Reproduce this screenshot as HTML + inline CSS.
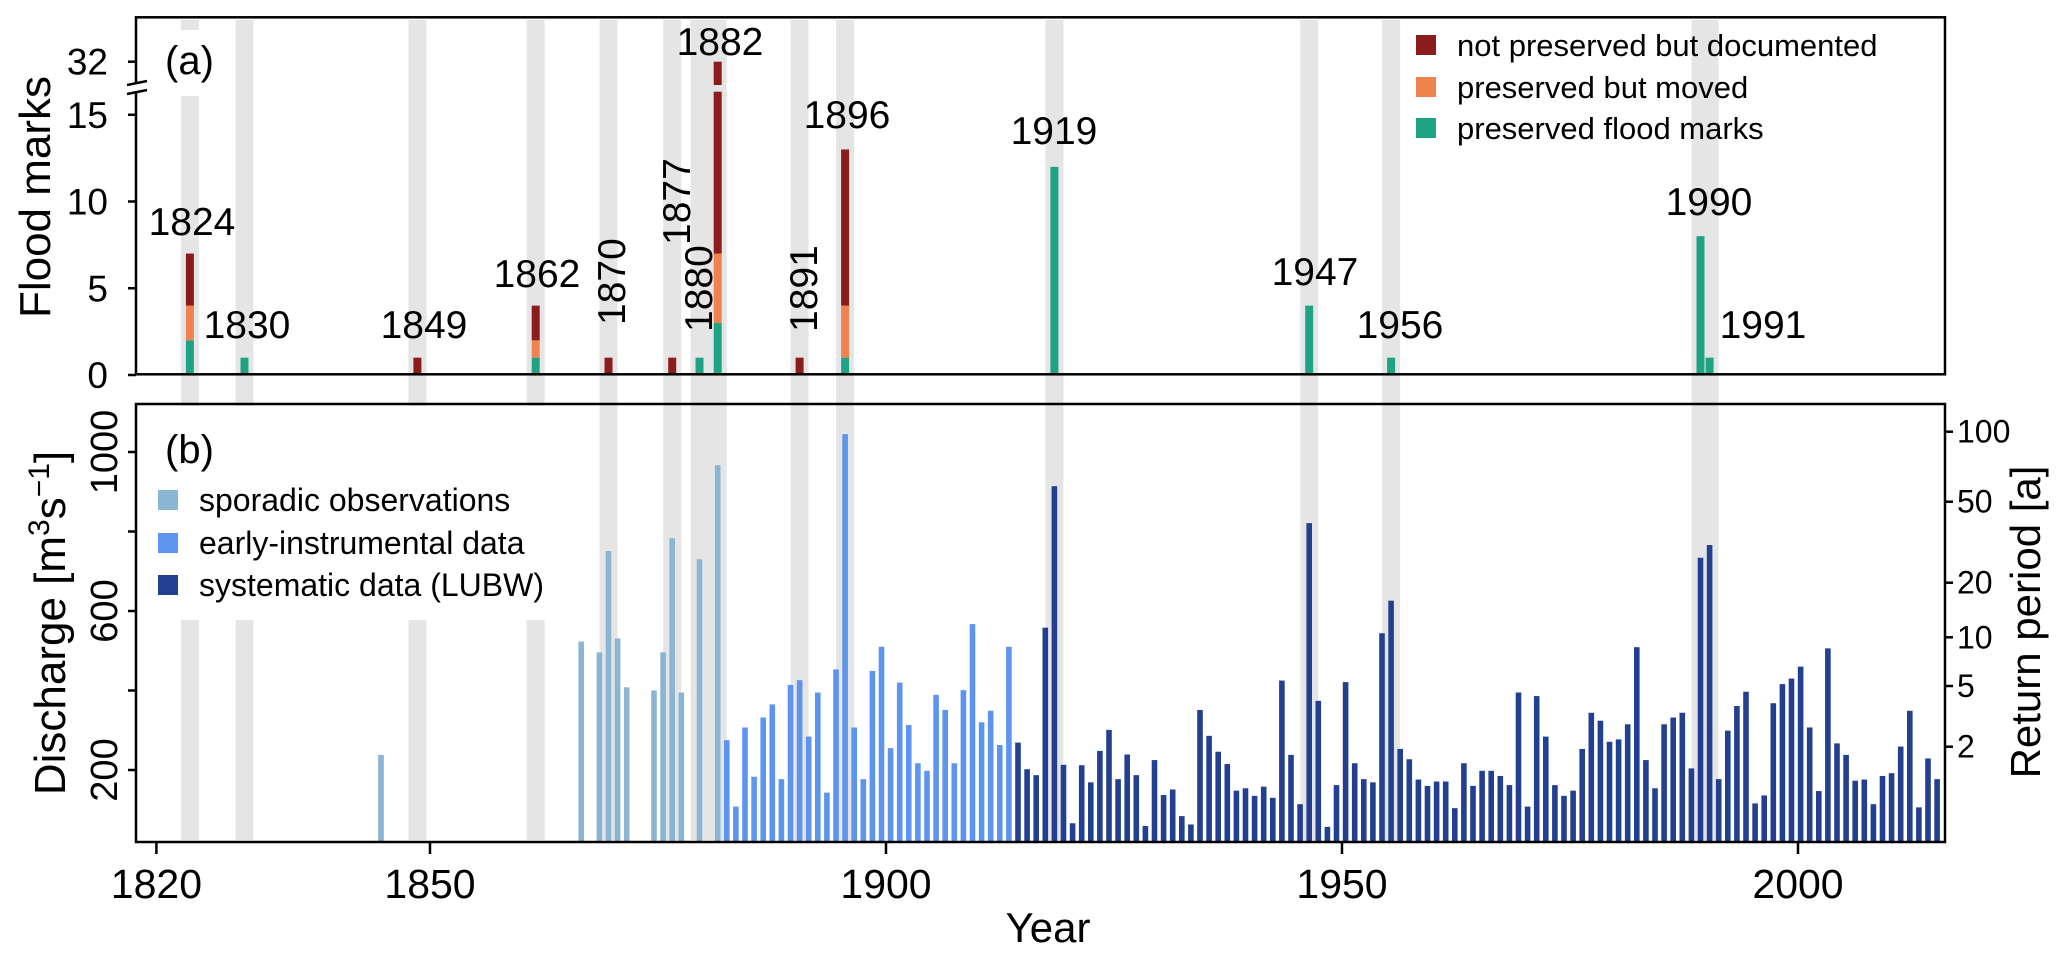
<!DOCTYPE html>
<html><head><meta charset="utf-8"><title>Flood marks and discharge</title>
<style>html,body{margin:0;padding:0;background:#fff}svg{display:block}text{font-family:"Liberation Sans",Arial,sans-serif;fill:#000}</style>
</head><body>
<svg id="chart" width="2067" height="962" viewBox="0 0 2067 962" xmlns="http://www.w3.org/2000/svg">
<g id="bands"></g>
<g id="topBars"></g>
<g id="botBars"></g>
<g id="overlay"></g>
</svg>
<script>
const NS='http://www.w3.org/2000/svg';
// ---- data ----
const bandYears=[[1824,1824],[1830,1830],[1849,1849],[1862,1862],[1870,1870],[1877,1877],[1880,1882],[1891,1891],[1896,1896],[1919,1919],[1947,1947],[1956,1956],[1990,1991]];
const markYears=[1824,1830,1849,1862,1870,1877,1880,1882,1891,1896,1919,1947,1956,1990,1991];
const markPreserved=[2,1,0,1,0,0,1,3,0,1,12,4,1,8,1];
const markMoved=[2,0,0,1,0,0,0,4,0,3,0,0,0,0,0];
const markDocumented=[3,0,1,2,1,1,0,25,1,9,0,0,0,0,0];
const sporadicYears=[1845,1867,1869,1870,1871,1872,1875,1876,1877,1878,1880,1882];
const sporadicQ=[238,523,496,751,531,408,400,496,783,395,730,967];
const earlyStart=1883;
const earlyQ=[275,108,307,183,332,365,177,414,426,284,395,143,453,1045,307,177,449,510,255,420,313,217,198,389,351,217,401,567,320,349,263,510];
const sysStart=1915;
const sysQ=[269,202,187,558,914,213,66,212,169,248,301,177,239,187,59,225,137,151,84,63,351,286,246,215,148,154,135,158,130,425,238,114,821,374,57,162,421,217,177,169,544,626,253,227,176,160,171,171,104,217,160,198,198,185,162,395,108,386,284,162,135,148,253,344,324,271,277,315,509,225,154,315,332,344,204,734,766,177,299,361,397,116,136,368,416,430,460,307,147,506,267,238,173,176,114,185,192,259,349,106,229,177];
const topTicks=[0,5,10,15];
const qTicks=[200,400,600,800,1000];
const qTickLabels=['200','','600','','1000'];
const rpTicks=['2','5','10','20','50','100'];
const rpTickY=[746.7,686,637.3,582.7,501.7,431.7];
const xTicks=[1820,1850,1900,1950,2000];
// ---- scales ----
const xb=y=>153.5+(y-1820)*9.1;
const xt=y=>156.4+(y-1820)*9.12;
const yTop=v=>375-17.35*v;
const yQ=q=>849.5-q*0.3975;
const svg=document.getElementById('chart');
function mk(tag,attrs,parent){const e=document.createElementNS(NS,tag);for(const k in attrs)e.setAttribute(k,attrs[k]);(parent||svg).appendChild(e);return e;}
function txt(s,attrs,parent){const e=mk('text',attrs,parent);e.textContent=s;return e;}
const C={doc:'#8b1c1c',mov:'#f0824f',pre:'#20a384',spo:'#8ab5d3',early:'#5d95ee',sys:'#22408f',band:'#e5e5e5'};
// bands
const gB=document.getElementById('bands');
bandYears.forEach(b=>{
  const r=mk('rect',{x:xb(b[0])-9,y:20,width:xb(b[1])-xb(b[0])+18,height:820,fill:C.band},gB);
  
  
});
// top bars
const gT=document.getElementById('topBars');
markYears.forEach((yr,i)=>{
  const x=xb(yr)-4;let base=0;
  [[markPreserved[i],C.pre,'preserved'],[markMoved[i],C.mov,'moved'],[markDocumented[i],C.doc,'documented']].forEach(s=>{
    if(s[0]<=0)return;
    const top=base+s[0];
    if(top>16){
      const r1=mk('rect',{x:x,y:91.7,width:8,height:yTop(base)-91.7,fill:s[1]},gT);
      
      
      const brk=85, yEnd=61.7+(32-top)*1.4;
      const r2=mk('rect',{x:x,y:yEnd,width:8,height:brk-yEnd,fill:s[1]},gT);
      
      
    } else {
      const r=mk('rect',{x:x,y:yTop(top),width:8,height:yTop(base)-yTop(top),fill:s[1]},gT);
      
      
    }
    base=top;
  });
});
// bottom bars
const gD=document.getElementById('botBars');
function qbar(yr,q,col,kind){
  const r=mk('rect',{x:xb(yr)-2.8,y:yQ(q),width:5.6,height:842-yQ(q),fill:col},gD);
  
  
}
sporadicYears.forEach((yr,i)=>qbar(yr,sporadicQ[i],C.spo,'sporadic'));
earlyQ.forEach((q,i)=>qbar(earlyStart+i,q,C.early,'early'));
sysQ.forEach((q,i)=>qbar(sysStart+i,q,C.sys,'systematic'));
// overlay
const gO=document.getElementById('overlay');
// white boxes behind labels
mk('rect',{x:158,y:30,width:66,height:66,fill:'#fff'},gO);
mk('rect',{x:140,y:406,width:452,height:214,fill:'#fff'},gO);
// frames
const f1=mk('rect',{x:136,y:17.3,width:1809,height:357,fill:'none',stroke:'#000','stroke-width':2.5},gO);


const f2=mk('rect',{x:136,y:404,width:1809,height:438,fill:'none',stroke:'#000','stroke-width':2.5},gO);


// axis break
mk('rect',{x:130,y:84,width:14,height:7,fill:'#fff'},gO);
const bk=mk('path',{d:'M127 85 L147 81 M127 94 L147 90',stroke:'#000','stroke-width':2.5,fill:'none'},gO);


// top ticks
topTicks.forEach(v=>{
  mk('line',{x1:128,x2:136,y1:yTop(v),y2:yTop(v),stroke:'#000','stroke-width':2.5},gO);
  const t=txt(String(v),{x:108,y:yTop(v)+13,'font-size':37,'text-anchor':'end'},gO);
  
  
});
mk('line',{x1:128,x2:136,y1:61.7,y2:61.7,stroke:'#000','stroke-width':2.5},gO);
const t32=txt('32',{x:108,y:74.7,'font-size':37,'text-anchor':'end'},gO);


// discharge ticks
qTicks.forEach((q,i)=>{
  mk('line',{x1:128,x2:136,y1:yQ(q),y2:yQ(q),stroke:'#000','stroke-width':2.5},gO);
  if(qTickLabels[i]){
    const t=txt(qTickLabels[i],{x:0,y:0,'font-size':38,'text-anchor':'middle',transform:'translate(117,'+yQ(q)+') rotate(-90)'},gO);
    
    
  }
});
// return period ticks
rpTicks.forEach((s,i)=>{
  mk('line',{x1:1945,x2:1953,y1:rpTickY[i],y2:rpTickY[i],stroke:'#000','stroke-width':2.5},gO);
  const t=txt(s,{x:1957,y:rpTickY[i]+11,'font-size':32},gO);
  
  
});
// x ticks
xTicks.forEach(y=>{
  mk('line',{x1:xt(y),x2:xt(y),y1:842,y2:854,stroke:'#000','stroke-width':2.5},gO);
  const t=txt(String(y),{x:xt(y),y:898,'font-size':41,'text-anchor':'middle'},gO);
  
  
});
// year labels in top panel
const lblH=[['1824',192,235],['1830',247,338],['1849',424,338],['1862',537,287],['1882',720,55],['1896',847,128],['1919',1054,144],['1947',1315,285],['1956',1400,338],['1990',1709,215],['1991',1763,338]];
lblH.forEach(l=>{
  const t=txt(l[0],{x:l[1],y:l[2],'font-size':39,'text-anchor':'middle'},gO);
  
  
});
const lblV=[['1870',625,325],['1877',690,245],['1880',712,332],['1891',817,332]];
lblV.forEach(l=>{
  const t=txt(l[0],{x:0,y:0,'font-size':39,transform:'translate('+l[1]+','+l[2]+') rotate(-90)'},gO);
  
  
});
</script>
<svg width="0" height="0" style="position:absolute"></svg>
<script>
(function(){
const NS='http://www.w3.org/2000/svg';
const g=document.getElementById('overlay');
function t(s,a,name){const e=document.createElementNS(NS,'text');for(const k in a)e.setAttribute(k,a[k]);e.textContent=s;g.appendChild(e);


return e;}
function sq(x,y,c,name){const e=document.createElementNS(NS,'rect');e.setAttribute('x',x);e.setAttribute('y',y-10);e.setAttribute('width',20);e.setAttribute('height',20);e.setAttribute('fill',c);g.appendChild(e);

}
t('(a)',{x:165,y:74,'font-size':40},'panel-a-label');
t('(b)',{x:165,y:463,'font-size':40},'panel-b-label');
sq(1416,45,'#8b1c1c','legend-swatch-documented');
sq(1416,87,'#f0824f','legend-swatch-moved');
sq(1416,128,'#20a384','legend-swatch-preserved');
t('not preserved but documented',{x:1457,y:56,'font-size':31},'legend-entry-documented');
t('preserved but moved',{x:1457,y:98,'font-size':31},'legend-entry-moved');
t('preserved flood marks',{x:1457,y:139,'font-size':31},'legend-entry-preserved');
sq(158,500,'#8ab5d3','legend-swatch-sporadic');
sq(158,543,'#5d95ee','legend-swatch-early');
sq(158,585,'#22408f','legend-swatch-systematic');
t('sporadic observations',{x:199,y:511,'font-size':32},'legend-entry-sporadic');
t('early-instrumental data',{x:199,y:554,'font-size':32},'legend-entry-early');
t('systematic data (LUBW)',{x:199,y:596,'font-size':32},'legend-entry-systematic');
t('Flood marks',{x:0,y:0,'font-size':44,'text-anchor':'middle',transform:'translate(50,197) rotate(-90)'},'y-axis-title-flood-marks');
const d=t('',{x:0,y:0,'font-size':44,'text-anchor':'middle',transform:'translate(65,623) rotate(-90)'},'y-axis-title-discharge');
d.innerHTML='Discharge [m<tspan dy="-16" font-size="30">3</tspan><tspan dy="16">s</tspan><tspan dy="-16" font-size="30">−1</tspan><tspan dy="16">]</tspan>';
t('Return period [a]',{x:0,y:0,'font-size':42,'text-anchor':'middle',transform:'translate(2040,622) rotate(-90)'},'y-axis-title-return-period');
t('Year',{x:1048,y:942,'font-size':42,'text-anchor':'middle'},'x-axis-title');
})();
</script>
</body></html>
